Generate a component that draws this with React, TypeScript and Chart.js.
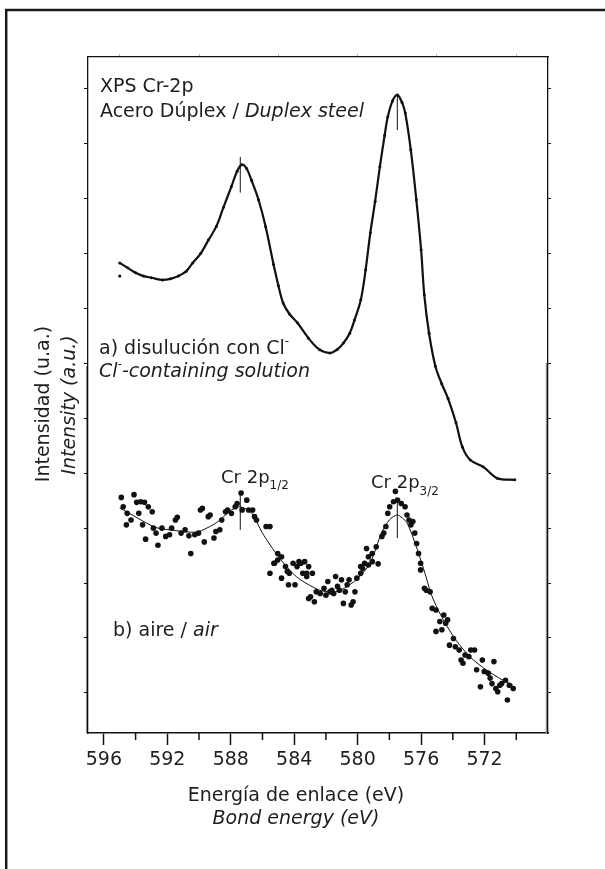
import React, { useEffect, useRef } from "react";
import { Chart, registerables } from "chart.js";

Chart.register(...registerables);

// ---------- axis ticks ----------
const xTicks = [596, 592, 588, 584, 580, 576, 572];
const xMinorTicks = [594, 590, 586, 582, 578, 574, 570];
const xTopTicks = [595, 590, 585, 580, 575, 570];
const yTicks = [0, 10, 20, 30, 40, 50, 60, 70, 80, 90, 100, 110];

// ---------- a) Cl- containing solution (upper spectrum) ----------
const aEnergy = [595.0, 594.5, 594.0, 593.5, 593.0, 592.3, 591.8, 591.3, 590.8, 590.4, 589.9, 589.4, 588.9, 588.45, 587.96, 587.6, 587.3, 587.0, 586.7, 586.25, 585.8, 585.3, 585.0, 584.7, 584.3, 583.8, 583.1, 582.4, 581.75, 581.3, 580.9, 580.5, 580.2, 579.8, 579.5, 579.2, 578.9, 578.6, 578.3, 578.1, 577.8, 577.5, 577.2, 577.0, 576.65, 576.3, 576.0, 575.8, 575.5, 575.1, 574.7, 574.3, 573.8, 573.4, 572.9, 572.1, 571.2, 570.1];
const aIntensity = [78.3, 77.4, 76.5, 75.9, 75.6, 75.2, 75.4, 75.9, 76.8, 78.3, 80.0, 82.5, 85.0, 88.5, 92.2, 95.0, 96.2, 95.5, 93.4, 89.8, 84.9, 78.0, 74.2, 71.0, 69.0, 67.4, 64.6, 62.5, 61.9, 62.5, 63.7, 65.5, 67.9, 71.6, 77.0, 83.8, 89.5, 95.8, 101.5, 104.9, 107.8, 108.9, 107.5, 105.6, 98.9, 89.8, 80.7, 72.5, 65.5, 59.5, 56.3, 53.6, 49.2, 44.8, 42.4, 41.2, 39.1, 38.8];
const aOutlierEnergy = [595.0];
const aOutlierIntensity = [75.9];

// ---------- b) air (lower spectrum): fitted curve ----------
const bFitEnergy = [595.0, 592.8, 591.85, 590.15, 588.9, 587.96, 587.4, 586.7, 586.0, 585.0, 584.1, 583.6, 582.4, 581.4, 580.7, 579.9, 579.2, 578.5, 578.0, 577.5, 576.9, 576.3, 575.8, 575.3, 574.6, 573.8, 572.9, 571.9, 570.9, 570.2];
const bFitIntensity = [33.7, 30.2, 29.7, 29.3, 31.0, 33.3, 33.9, 32.8, 29.1, 24.8, 21.8, 20.6, 18.7, 18.4, 19.3, 21.1, 23.7, 29.1, 31.5, 32.4, 31.0, 26.6, 22.2, 17.5, 13.3, 9.6, 6.5, 4.2, 2.4, 1.4];

// ---------- b) air: measured points ----------
const bLeftEnergy = [594.90, 594.78, 594.53, 594.10, 593.93, 593.80, 594.58, 594.29, 593.68, 593.44, 593.20, 592.95, 593.56, 593.37, 592.88, 592.71, 592.59, 592.34, 592.10, 591.86, 591.73, 591.49, 591.37, 591.13, 590.88, 590.64, 590.52, 590.27, 590.03, 589.91, 589.79, 589.67, 589.42, 589.30, 589.06, 588.94, 588.69, 588.57, 588.33, 588.20, 587.96, 587.72, 587.60, 587.35, 587.28, 586.99, 586.87, 586.62, 586.50, 586.38, 585.77, 585.53, 585.28, 585.04, 584.80, 584.55, 584.31, 583.82, 583.58, 583.34, 583.09, 583.21, 582.85];
const bLeftIntensity = [35.6, 33.9, 32.7, 36.1, 34.7, 32.7, 30.6, 31.5, 34.8, 34.7, 33.9, 33.0, 30.6, 28.0, 30.0, 29.1, 26.9, 30.0, 28.5, 28.8, 30.0, 31.5, 32.0, 29.1, 29.7, 28.6, 25.4, 28.8, 29.1, 33.3, 33.6, 27.5, 32.1, 32.4, 28.2, 29.4, 29.7, 31.5, 33.0, 33.3, 32.7, 33.9, 34.5, 36.4, 33.3, 35.1, 33.3, 33.3, 32.1, 31.5, 30.3, 30.3, 23.6, 25.4, 24.8, 23.0, 21.8, 23.0, 23.6, 23.9, 23.0, 21.8, 21.8];
const bValleyEnergy = [585.53, 585.24, 585.04, 584.80, 584.43, 584.36, 583.95, 584.07, 583.70, 583.46, 583.21, 583.09, 582.97, 582.73, 582.61, 582.36, 582.12, 582.00, 581.88, 581.75, 581.63, 581.51, 581.39, 581.27, 581.15, 581.02, 580.90, 580.78, 580.66, 580.54, 580.41, 580.29, 580.17, 580.05, 579.81, 579.69, 579.32, 579.08, 578.71];
const bValleyIntensity = [21.8, 23.6, 24.2, 20.9, 22.1, 19.7, 19.7, 23.6, 23.9, 21.8, 21.2, 17.2, 17.5, 16.6, 18.4, 18.1, 19.05, 17.8, 20.3, 18.4, 18.7, 18.1, 21.2, 19.4, 18.7, 20.6, 16.3, 18.4, 19.7, 20.6, 16.0, 16.6, 18.4, 20.9, 21.8, 22.7, 23.3, 23.9, 23.5];
const bPeakEnergy = [579.81, 579.56, 579.44, 579.32, 579.08, 578.83, 578.47, 578.35, 578.22, 578.10, 577.98, 577.74, 577.49, 577.62, 577.25, 577.01, 576.89, 576.76, 576.64, 576.52, 576.40, 576.28, 576.16, 576.03];
const bPeakIntensity = [23.0, 23.6, 26.3, 24.8, 25.4, 26.6, 28.5, 29.1, 30.3, 32.7, 33.9, 34.8, 35.1, 36.7, 34.5, 33.9, 32.4, 31.5, 30.6, 31.2, 29.1, 27.2, 25.4, 23.6];
const bTailEnergy = [575.79, 575.67, 575.43, 575.30, 575.06, 574.82, 574.57, 574.33, 575.06, 574.69, 574.45, 574.21, 573.96, 573.84, 573.60, 573.48, 573.36, 573.23, 572.99, 572.87, 572.63, 572.50, 572.26, 572.14, 572.02, 571.77, 571.65, 571.53, 571.41, 571.29, 571.17, 571.04, 570.92, 570.68, 570.56, 570.44, 570.19, 576.03];
const bTailIntensity = [19.05, 18.7, 18.4, 15.4, 15.1, 13.0, 14.2, 13.3, 11.2, 11.5, 12.7, 8.7, 9.9, 8.4, 7.8, 6.0, 5.4, 6.9, 6.6, 7.8, 7.8, 4.2, 1.1, 6.0, 3.9, 3.6, 2.7, 1.7, 5.7, 0.8, 0.2, 1.4, 1.7, 2.3, -1.3, 1.4, 0.8, 22.4];

// ---------- peak markers (Cr 2p1/2, Cr 2p3/2) ----------
const markerEnergy = [587.4, 577.5];
const markerALow = [91.1, 102.5];
const markerAHigh = [97.6, 108.9];
const markerBLow = [29.7, 28.2];
const markerBHigh = [36.4, 35.1];

const FAMILY = '"DejaVu Sans", "Liberation Sans", sans-serif';
const TEXT = "#1e1e1e";
const INK = "#111111";

const fnt = (size: number, italic = false) => `${italic ? "italic " : ""}${size}px ${FAMILY}`;

type Run = { t: string; i?: boolean; s?: number; dy?: number };
function drawRuns(ctx: CanvasRenderingContext2D, x: number, y: number, list: Run[], base = 19) {
  let cx = x;
  for (const r of list) {
    ctx.font = fnt(r.s ?? base, r.i);
    ctx.fillText(r.t, cx, y + (r.dy ?? 0));
    cx += ctx.measureText(r.t).width;
  }
}

const pts = (xs: number[], ys: number[]) => xs.map((x, i) => ({ x, y: ys[i] }));

const decorPlugin = {
  id: "decor",
  beforeDraw(chart: any) {
    const ctx = chart.ctx as CanvasRenderingContext2D;
    ctx.save();
    ctx.fillStyle = "#ffffff";
    ctx.fillRect(0, 0, chart.width, chart.height);
    ctx.restore();
  },
  afterDraw(chart: any) {
    const ctx = chart.ctx as CanvasRenderingContext2D;
    const xs = chart.scales.x;
    const area = chart.chartArea;
    ctx.save();
    // outer frame (left and top)
    ctx.strokeStyle = "#1a1a1a";
    ctx.lineWidth = 2.5;
    ctx.beginPath();
    ctx.moveTo(6.2, chart.height);
    ctx.lineTo(6.2, 10);
    ctx.lineTo(chart.width, 10);
    ctx.stroke();

    // lower panel overlap: thicker left axis, doubled grey right axis
    ctx.strokeStyle = INK;
    ctx.lineWidth = 1;
    ctx.beginPath();
    ctx.moveTo(area.left - 1, 366);
    ctx.lineTo(area.left - 1, area.bottom);
    ctx.stroke();
    ctx.strokeStyle = "#8a8a8a";
    ctx.lineWidth = 1.2;
    ctx.beginPath();
    ctx.moveTo(area.right - 1.6, 363);
    ctx.lineTo(area.right - 1.6, area.bottom);
    ctx.stroke();

    // minor bottom ticks
    ctx.strokeStyle = INK;
    ctx.lineWidth = 1.5;
    for (const v of xMinorTicks) {
      const px = xs.getPixelForValue(v);
      ctx.beginPath();
      ctx.moveTo(px, area.bottom);
      ctx.lineTo(px, area.bottom + 7);
      ctx.stroke();
    }

    // texts
    ctx.fillStyle = TEXT;
    ctx.textBaseline = "alphabetic";
    ctx.textAlign = "left";
    drawRuns(ctx, 100, 92, [{ t: "XPS Cr-2p" }]);
    drawRuns(ctx, 100, 117, [{ t: "Acero Dúplex / " }, { t: "Duplex steel", i: true }]);
    drawRuns(ctx, 99, 354, [{ t: "a) disulución con Cl" }, { t: "-", s: 12, dy: -9 }]);
    drawRuns(ctx, 99, 377, [
      { t: "Cl", i: true },
      { t: "-", s: 12, dy: -9, i: true },
      { t: "-containing solution", i: true },
    ]);
    drawRuns(ctx, 113, 636, [{ t: "b) aire / " }, { t: "air", i: true }]);
    drawRuns(ctx, 221, 483, [{ t: "Cr 2p", s: 18 }, { t: "1/2", s: 12, dy: 6 }]);
    drawRuns(ctx, 371, 488, [{ t: "Cr 2p", s: 18 }, { t: "3/2", s: 12, dy: 7 }]);

    ctx.textAlign = "center";
    ctx.font = fnt(19);
    ctx.fillText("Energía de enlace (eV)", 296, 801);
    ctx.font = fnt(19, true);
    ctx.fillText("Bond energy (eV)", 296, 824);

    ctx.save();
    ctx.translate(49, 404);
    ctx.rotate(-Math.PI / 2);
    ctx.font = fnt(19);
    ctx.fillText("Intensidad (u.a.)", 0, 0);
    ctx.restore();
    ctx.save();
    ctx.translate(75, 405);
    ctx.rotate(-Math.PI / 2);
    ctx.font = fnt(19, true);
    ctx.fillText("Intensity (a.u.)", 0, 0);
    ctx.restore();

    ctx.restore();
  },
};

export default function App() {
  const ref = useRef<HTMLCanvasElement>(null);

  useEffect(() => {
    const canvas = ref.current;
    if (!canvas) return;

    const markerSet = (lo: number[], hi: number[], idx: number) => ({
      data: [
        { x: markerEnergy[idx], y: lo[idx] },
        { x: markerEnergy[idx], y: hi[idx] },
      ],
      showLine: true,
      borderColor: INK,
      borderWidth: 1,
      pointRadius: 0,
    });

    const scatterSet = (xs: number[], ys: number[]) => ({
      data: pts(xs, ys),
      showLine: false,
      pointRadius: 2.8,
      pointBackgroundColor: INK,
      pointBorderWidth: 0,
      borderColor: INK,
    });

    const chart = new Chart(canvas, {
      type: "scatter",
      data: {
        datasets: [
          {
            data: pts(aEnergy, aIntensity),
            showLine: true,
            borderColor: INK,
            borderWidth: 2.2,
            pointRadius: 1.5,
            pointBackgroundColor: INK,
            pointBorderWidth: 0,
            tension: 0.35,
          } as any,
          {
            data: pts(aOutlierEnergy, aOutlierIntensity),
            showLine: false,
            pointRadius: 1.6,
            pointBackgroundColor: INK,
            pointBorderWidth: 0,
          },
          {
            data: pts(bFitEnergy, bFitIntensity),
            showLine: true,
            borderColor: INK,
            borderWidth: 1,
            pointRadius: 0,
            tension: 0.25,
          },
          scatterSet(bLeftEnergy, bLeftIntensity),
          scatterSet(bValleyEnergy, bValleyIntensity),
          scatterSet(bPeakEnergy, bPeakIntensity),
          scatterSet(bTailEnergy, bTailIntensity),
          markerSet(markerALow, markerAHigh, 0),
          markerSet(markerALow, markerAHigh, 1),
          markerSet(markerBLow, markerBHigh, 0),
          markerSet(markerBLow, markerBHigh, 1),
        ] as any,
      },
      options: {
        responsive: false,
        animation: false,
        events: [],
        layout: { padding: 0 },
        plugins: { legend: { display: false }, tooltip: { enabled: false } },
        scales: {
          x: {
            type: "linear",
            position: "bottom",
            reverse: true,
            min: 568,
            max: 597,
            afterBuildTicks: (s: any) => {
              s.ticks = xTicks.map((v) => ({ value: v }));
            },
            afterFit: (s: any) => {
              s.height = 136;
            },
            ticks: {
              color: TEXT,
              font: { family: FAMILY, size: 19 },
              padding: 4,
              maxRotation: 0,
              autoSkip: false,
            },
            grid: { drawOnChartArea: false, tickLength: 12, tickColor: INK, tickWidth: 1.5 },
            border: { color: INK, width: 1.6 },
          },
          xTop: {
            type: "linear",
            position: "top",
            reverse: true,
            min: 568,
            max: 597,
            afterBuildTicks: (s: any) => {
              s.ticks = xTopTicks.map((v) => ({ value: v }));
            },
            afterFit: (s: any) => {
              s.height = 57;
            },
            ticks: { display: false },
            grid: { drawOnChartArea: false, tickLength: 3, tickColor: "#b5b5b5", tickWidth: 1 },
            border: { color: INK, width: 1.2 },
          },
          y: {
            type: "linear",
            position: "left",
            min: -7.3,
            max: 115.8,
            afterBuildTicks: (s: any) => {
              s.ticks = yTicks.map((v) => ({ value: v }));
            },
            afterFit: (s: any) => {
              s.width = 88;
            },
            ticks: { display: false },
            grid: { drawOnChartArea: false, tickLength: 4, tickColor: INK, tickWidth: 1 },
            border: { color: INK, width: 1.3 },
          },
          yRight: {
            type: "linear",
            position: "right",
            min: -7.3,
            max: 115.8,
            afterBuildTicks: (s: any) => {
              s.ticks = yTicks.map((v) => ({ value: v }));
            },
            afterFit: (s: any) => {
              s.width = 57;
            },
            ticks: { display: false },
            grid: { drawOnChartArea: false, tickLength: 3, tickColor: INK, tickWidth: 1 },
            border: { color: INK, width: 1.3 },
          },
        },
      } as any,
      plugins: [decorPlugin],
    });

    return () => chart.destroy();
  }, []);

  return (
    <div style={{ position: "absolute", left: 0, top: 0, width: 605, height: 869, background: "#fff" }}>
      <canvas ref={ref} width={605} height={869} style={{ display: "block", width: 605, height: 869 }} />
    </div>
  );
}
